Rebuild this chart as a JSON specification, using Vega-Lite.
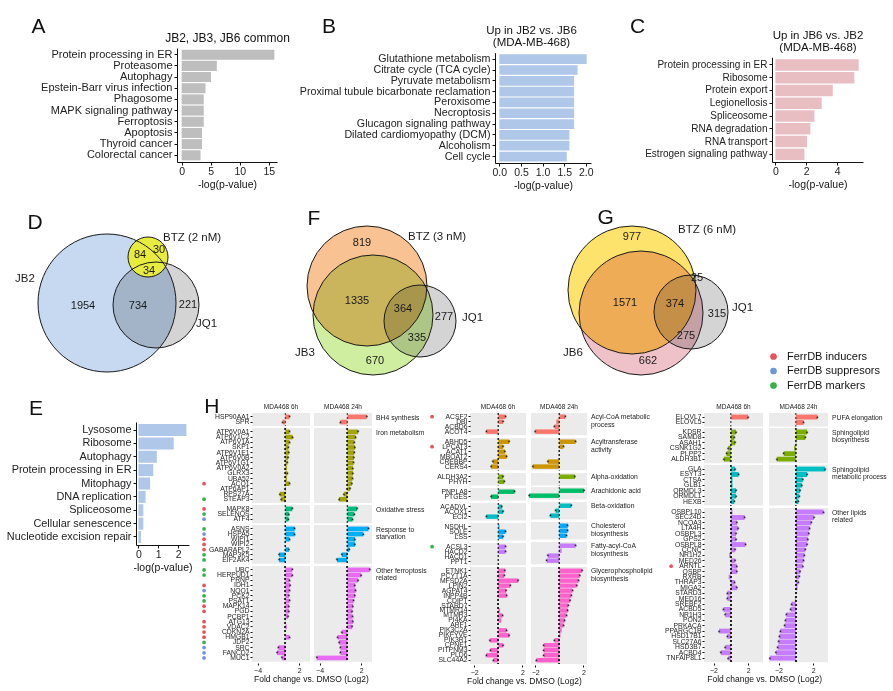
{
"$schema":"https://vega.github.io/schema/vega-lite/v6.json",
"background":"white",
"padding":{"left":5,"top":15,"right":3,"bottom":0},
"config":{
 "font":"Liberation Sans",
 "view":{"stroke":null},
 "axis":{"labelFont":"Liberation Sans","titleFont":"Liberation Sans","labelColor":"#222","titleColor":"#111","domainColor":"#111","tickColor":"#111","titleFontWeight":"normal","grid":false,"labelLimit":260},
 "header":{"labelFont":"Liberation Sans","titleFont":"Liberation Sans","labelColor":"#222"},
 "title":{"font":"Liberation Sans","fontWeight":"normal","color":"#111"},
 "legend":{"labelFont":"Liberation Sans"},
 "text":{"font":"Liberation Sans"}
},
"datasets":{
 "A":[{"t":"Protein processing in ER","v":15.95},{"t":"Proteasome","v":6.05},{"t":"Autophagy","v":5.05},{"t":"Epstein-Barr virus infection","v":4.1},{"t":"Phagosome","v":3.8},{"t":"MAPK signaling pathway","v":3.8},{"t":"Ferroptosis","v":3.8},{"t":"Apoptosis","v":3.5},{"t":"Thyroid cancer","v":3.5},{"t":"Colorectal cancer","v":3.25}],
 "B":[{"t":"Glutathione metabolism","v":2.02},{"t":"Citrate cycle (TCA cycle)","v":1.81},{"t":"Pyruvate metabolism","v":1.73},{"t":"Proximal tubule bicarbonate reclamation","v":1.73},{"t":"Peroxisome","v":1.73},{"t":"Necroptosis","v":1.73},{"t":"Glucagon signaling pathway","v":1.73},{"t":"Dilated cardiomyopathy (DCM)","v":1.62},{"t":"Alcoholism","v":1.62},{"t":"Cell cycle","v":1.56}],
 "C":[{"t":"Protein processing in ER","v":5.4},{"t":"Ribosome","v":5.12},{"t":"Protein export","v":3.72},{"t":"Legionellosis","v":3.0},{"t":"Spliceosome","v":2.53},{"t":"RNA degradation","v":2.27},{"t":"RNA transport","v":2.05},{"t":"Estrogen signaling pathway","v":1.88}],
 "E":[{"t":"Lysosome","v":2.42},{"t":"Ribosome","v":1.78},{"t":"Autophagy","v":0.93},{"t":"Protein processing in ER","v":0.75},{"t":"Mitophagy","v":0.59},{"t":"DNA replication","v":0.36},{"t":"Spliceosome","v":0.25},{"t":"Cellular senescence","v":0.25},{"t":"Nucleotide excision repair","v":0.13}],
 "vD":[{"k":"c","name":"JB2","x":107,"y":302,"r":69},{"k":"c","name":"JQ1","x":156,"y":304,"r":43},{"k":"c","name":"BTZ","x":148,"y":256,"r":20},
  {"k":"n","label":"84","x":140,"y":254},{"k":"n","label":"30","x":159,"y":249},{"k":"n","label":"34","x":149,"y":270},{"k":"n","label":"1954","x":83,"y":305},{"k":"n","label":"734","x":138,"y":305},{"k":"n","label":"221","x":188,"y":304},
  {"k":"s","label":"BTZ (2 nM)","x":163,"y":237},{"k":"s","label":"JB2","x":15,"y":278},{"k":"s","label":"JQ1","x":196,"y":323}],
 "vF":[{"k":"c","name":"BTZ","x":367,"y":285,"r":60},{"k":"c","name":"JB3","x":373,"y":314,"r":60},{"k":"c","name":"JQ1","x":420,"y":320,"r":36},
  {"k":"n","label":"819","x":362,"y":242},{"k":"n","label":"1335","x":357,"y":300},{"k":"n","label":"364","x":403,"y":308},{"k":"n","label":"277","x":444,"y":316},{"k":"n","label":"335","x":417,"y":337},{"k":"n","label":"670","x":375,"y":360},
  {"k":"s","label":"BTZ (3 nM)","x":408,"y":236},{"k":"s","label":"JQ1","x":462,"y":317},{"k":"s","label":"JB3","x":295,"y":352}],
 "vG":[{"k":"c","name":"BTZ","x":632,"y":289,"r":64},{"k":"c","name":"JB6","x":641,"y":312,"r":62},{"k":"c","name":"JQ1","x":691,"y":311,"r":37},
  {"k":"n","label":"977","x":632,"y":236},{"k":"n","label":"1571","x":625,"y":302},{"k":"n","label":"374","x":675,"y":303},{"k":"n","label":"25","x":697,"y":277},{"k":"n","label":"315","x":717,"y":313},{"k":"n","label":"275","x":686,"y":335},{"k":"n","label":"662","x":648,"y":360},
  {"k":"s","label":"BTZ (6 nM)","x":678,"y":229},{"k":"s","label":"JQ1","x":732,"y":307},{"k":"s","label":"JB6","x":563,"y":352}],
 "leg":[{"ferr":"FerrDB inducers"},{"ferr":"FerrDB suppresors"},{"ferr":"FerrDB markers"}],
 "h":[
  {"g":1,"c":"BH4 synthesis","n":"HSP90AA1","6h":0.6,"24h":2.8},
  {"g":1,"c":"BH4 synthesis","n":"SPR","6h":-0.4,"24h":-1.0},
  {"g":1,"c":"Iron metabolism","n":"ATP6V0A1","6h":0.6,"24h":1.55},
  {"g":1,"c":"Iron metabolism","n":"ATP6V1C2","6h":1.05,"24h":1.2},
  {"g":1,"c":"Iron metabolism","n":"ATP6V1A","6h":0.6,"24h":1.0},
  {"g":1,"c":"Iron metabolism","n":"SKP1","6h":0.45,"24h":1.1},
  {"g":1,"c":"Iron metabolism","n":"ATP6V1E1","6h":0.5,"24h":1.0},
  {"g":1,"c":"Iron metabolism","n":"ATP6V0B","6h":0.4,"24h":0.95},
  {"g":1,"c":"Iron metabolism","n":"ATP6V1G1","6h":0.3,"24h":0.9},
  {"g":1,"c":"Iron metabolism","n":"ATP6V0A2","6h":0.25,"24h":0.8},
  {"g":1,"c":"Iron metabolism","n":"GLRX3","6h":0.3,"24h":0.8},
  {"g":1,"c":"Iron metabolism","n":"UBA52","6h":0.25,"24h":0.75},
  {"g":1,"c":"Iron metabolism","n":"ACO1","f":"i","6h":0.6,"24h":0.65},
  {"g":1,"c":"Iron metabolism","n":"ATP6AP1","6h":0.1,"24h":0.4},
  {"g":1,"c":"Iron metabolism","n":"RPS27A","6h":-0.8,"24h":-0.5},
  {"g":1,"c":"Iron metabolism","n":"STEAP3","f":"m","6h":-0.6,"24h":-1.2},
  {"g":1,"c":"Oxidative stress","n":"MAPK8","f":"i","6h":1.0,"24h":1.4},
  {"g":1,"c":"Oxidative stress","n":"SELENOS","f":"m","6h":0.5,"24h":1.0},
  {"g":1,"c":"Oxidative stress","n":"ATF4","f":"s","6h":0.45,"24h":0.75},
  {"g":1,"c":"Response to|starvation","n":"ASNS","f":"m","6h":1.35,"24h":3.05},
  {"g":1,"c":"Response to|starvation","n":"HSPA5","f":"s","6h":1.35,"24h":2.3},
  {"g":1,"c":"Response to|starvation","n":"WIPI1","f":"i","6h":0.6,"24h":1.1},
  {"g":1,"c":"Response to|starvation","n":"WIPI2","f":"i","6h":0.0,"24h":1.1},
  {"g":1,"c":"Response to|starvation","n":"GABARAPL2","f":"i","6h":0.5,"24h":0.3},
  {"g":1,"c":"Response to|starvation","n":"MAP3K5","f":"m","6h":-0.9,"24h":-0.8},
  {"g":1,"c":"Response to|starvation","n":"EIF2AK4","f":"m","6h":-0.9,"24h":-1.5},
  {"g":1,"c":"Other ferroptosis|related","n":"UBC","f":"m","6h":1.0,"24h":3.25},
  {"g":1,"c":"Other ferroptosis|related","n":"HERPUD1","f":"m","6h":1.0,"24h":2.0},
  {"g":1,"c":"Other ferroptosis|related","n":"PRNP","6h":0.6,"24h":1.55},
  {"g":1,"c":"Other ferroptosis|related","n":"IDH1","f":"i","6h":0.7,"24h":1.1},
  {"g":1,"c":"Other ferroptosis|related","n":"NQO1","f":"s","6h":0.6,"24h":1.2},
  {"g":1,"c":"Other ferroptosis|related","n":"PCK2","f":"m","6h":0.5,"24h":1.1},
  {"g":1,"c":"Other ferroptosis|related","n":"PSAT1","f":"m","6h":0.6,"24h":0.9},
  {"g":1,"c":"Other ferroptosis|related","n":"MAPK14","f":"i","6h":0.5,"24h":0.8},
  {"g":1,"c":"Other ferroptosis|related","n":"PGD","f":"i","6h":0.5,"24h":0.7},
  {"g":1,"c":"Other ferroptosis|related","n":"PCBP1","6h":0.4,"24h":0.75},
  {"g":1,"c":"Other ferroptosis|related","n":"ATG13","f":"i","6h":0.05,"24h":0.8},
  {"g":1,"c":"Other ferroptosis|related","n":"VDAC2","f":"i","6h":0.2,"24h":0.7},
  {"g":1,"c":"Other ferroptosis|related","n":"CDKN2A","f":"i","6h":0.0,"24h":-0.8},
  {"g":1,"c":"Other ferroptosis|related","n":"HMGB1","f":"i","6h":0.6,"24h":-1.4},
  {"g":1,"c":"Other ferroptosis|related","n":"JDP2","f":"m","6h":0.0,"24h":-1.2},
  {"g":1,"c":"Other ferroptosis|related","n":"SRC","f":"s","6h":-1.0,"24h":-1.0},
  {"g":1,"c":"Other ferroptosis|related","n":"FANCD2","f":"s","6h":-1.2,"24h":-1.0},
  {"g":1,"c":"Other ferroptosis|related","n":"MUC1","f":"s","6h":-0.5,"24h":-4.4},
  {"g":2,"c":"Acyl-CoA metabolic|process","n":"ACSF2","f":"i","6h":0.6,"24h":0.5},
  {"g":2,"c":"Acyl-CoA metabolic|process","n":"DBI","6h":0.4,"24h":-0.25},
  {"g":2,"c":"Acyl-CoA metabolic|process","n":"ACBD6","6h":0.0,"24h":-0.4},
  {"g":2,"c":"Acyl-CoA metabolic|process","n":"ACOT4","6h":-1.0,"24h":-2.0},
  {"g":2,"c":"Acyltransferase|activity","n":"ABHD5","6h":0.9,"24h":1.35},
  {"g":2,"c":"Acyltransferase|activity","n":"LPCAT3","f":"i","6h":0.4,"24h":0.35},
  {"g":2,"c":"Acyltransferase|activity","n":"ACAT1","6h":0.55,"24h":0.0},
  {"g":2,"c":"Acyltransferase|activity","n":"MBOAT2","6h":0.7,"24h":0.0},
  {"g":2,"c":"Acyltransferase|activity","n":"CREBBP","6h":-0.45,"24h":-0.95},
  {"g":2,"c":"Acyltransferase|activity","n":"CERS4","6h":-0.6,"24h":-2.2},
  {"g":2,"c":"Alpha-oxidation","n":"ALDH3A2","6h":0.4,"24h":1.3},
  {"g":2,"c":"Alpha-oxidation","n":"PHYH","6h":0.5,"24h":0.0},
  {"g":2,"c":"Arachidonic acid","n":"PNPLA8","6h":1.35,"24h":2.05},
  {"g":2,"c":"Arachidonic acid","n":"PTGES","6h":-0.6,"24h":-2.5},
  {"g":2,"c":"Beta-oxidation","n":"ACADVL","6h":0.3,"24h":1.0},
  {"g":2,"c":"Beta-oxidation","n":"ACOX1","6h":0.4,"24h":-0.3},
  {"g":2,"c":"Beta-oxidation","n":"ECI2","6h":-1.0,"24h":-0.75},
  {"g":2,"c":"Cholesterol|biosynthesis","n":"NSDHL","6h":0.1,"24h":0.7},
  {"g":2,"c":"Cholesterol|biosynthesis","n":"SQLE","6h":0.6,"24h":0.7},
  {"g":2,"c":"Cholesterol|biosynthesis","n":"LSS","6h":0.4,"24h":0.6},
  {"g":2,"c":"Fatty-acyl-CoA|biosynthesis","n":"ACSL3","f":"m","6h":0.6,"24h":1.35},
  {"g":2,"c":"Fatty-acyl-CoA|biosynthesis","n":"HACD2","6h":0.6,"24h":0.2},
  {"g":2,"c":"Fatty-acyl-CoA|biosynthesis","n":"HACD1","6h":0.0,"24h":-0.95},
  {"g":2,"c":"Fatty-acyl-CoA|biosynthesis","n":"PPT1","6h":0.0,"24h":-1.05},
  {"g":2,"c":"Glycerophospholipid|biosynthesis","n":"ETNK1","6h":0.55,"24h":1.9},
  {"g":2,"c":"Glycerophospholipid|biosynthesis","n":"PCYT1A","6h":0.5,"24h":1.7},
  {"g":2,"c":"Glycerophospholipid|biosynthesis","n":"MFSD2A","6h":1.65,"24h":1.6},
  {"g":2,"c":"Glycerophospholipid|biosynthesis","n":"LPIN2","6h":1.0,"24h":1.45},
  {"g":2,"c":"Glycerophospholipid|biosynthesis","n":"AGPAT4","6h":0.65,"24h":1.1},
  {"g":2,"c":"Glycerophospholipid|biosynthesis","n":"INPP4B","6h":0.7,"24h":1.0},
  {"g":2,"c":"Glycerophospholipid|biosynthesis","n":"CDIPT","6h":0.0,"24h":0.9},
  {"g":2,"c":"Glycerophospholipid|biosynthesis","n":"STARD7","6h":0.0,"24h":0.75},
  {"g":2,"c":"Glycerophospholipid|biosynthesis","n":"MTMR14","6h":0.15,"24h":0.7},
  {"g":2,"c":"Glycerophospholipid|biosynthesis","n":"MTMR3","6h":0.35,"24h":0.6},
  {"g":2,"c":"Glycerophospholipid|biosynthesis","n":"PI4KA","6h":0.25,"24h":0.45},
  {"g":2,"c":"Glycerophospholipid|biosynthesis","n":"ARF1","6h":0.0,"24h":0.35},
  {"g":2,"c":"Glycerophospholipid|biosynthesis","n":"PIK3C2A","6h":0.7,"24h":0.2},
  {"g":2,"c":"Glycerophospholipid|biosynthesis","n":"PIKFYVE","6h":0.9,"24h":0.1},
  {"g":2,"c":"Glycerophospholipid|biosynthesis","n":"PIK3R1","6h":-0.7,"24h":-0.4},
  {"g":2,"c":"Glycerophospholipid|biosynthesis","n":"CPNE1","6h":0.4,"24h":-1.3},
  {"g":2,"c":"Glycerophospholipid|biosynthesis","n":"PITPNM3","6h":-0.65,"24h":-1.3},
  {"g":2,"c":"Glycerophospholipid|biosynthesis","n":"PLD6","6h":-1.0,"24h":-1.3},
  {"g":2,"c":"Glycerophospholipid|biosynthesis","n":"SLC44A2","6h":-0.4,"24h":-1.9},
  {"g":3,"c":"PUFA elongation","n":"ELOVL7","6h":2.0,"24h":2.5},
  {"g":3,"c":"PUFA elongation","n":"ELOVL5","6h":0.0,"24h":0.9},
  {"g":3,"c":"Sphingolipid|biosynthesis","n":"KDSR","6h":0.6,"24h":1.3},
  {"g":3,"c":"Sphingolipid|biosynthesis","n":"SAMD8","6h":0.4,"24h":1.1},
  {"g":3,"c":"Sphingolipid|biosynthesis","n":"ASAH1","6h":0.5,"24h":0.05},
  {"g":3,"c":"Sphingolipid|biosynthesis","n":"CSNK1G2","6h":-0.3,"24h":-0.2},
  {"g":3,"c":"Sphingolipid|biosynthesis","n":"PLPP2","6h":-0.5,"24h":-1.4},
  {"g":3,"c":"Sphingolipid|biosynthesis","n":"ALDH3B1","6h":-0.8,"24h":-2.2},
  {"g":3,"c":"Sphingolipid|metabolic process","n":"GLA","6h":0.5,"24h":3.4},
  {"g":3,"c":"Sphingolipid|metabolic process","n":"ESYT3","6h":0.9,"24h":1.3},
  {"g":3,"c":"Sphingolipid|metabolic process","n":"CTSA","6h":0.2,"24h":0.8},
  {"g":3,"c":"Sphingolipid|metabolic process","n":"GLB1","6h":0.2,"24h":0.7},
  {"g":3,"c":"Sphingolipid|metabolic process","n":"ORMDL3","6h":0.6,"24h":0.5},
  {"g":3,"c":"Sphingolipid|metabolic process","n":"ORMDL1","6h":0.6,"24h":0.4},
  {"g":3,"c":"Sphingolipid|metabolic process","n":"HEXB","6h":0.4,"24h":0.3},
  {"g":3,"c":"Other lipids|related","n":"OSBPL10","6h":0.2,"24h":3.2},
  {"g":3,"c":"Other lipids|related","n":"SEC24D","6h":1.6,"24h":2.1},
  {"g":3,"c":"Other lipids|related","n":"NCOA3","6h":0.7,"24h":1.8},
  {"g":3,"c":"Other lipids|related","n":"LTA4H","6h":0.85,"24h":1.6},
  {"g":3,"c":"Other lipids|related","n":"OSBPL3","6h":0.6,"24h":1.5},
  {"g":3,"c":"Other lipids|related","n":"GPS2","6h":0.6,"24h":1.4},
  {"g":3,"c":"Other lipids|related","n":"OSBPL8","6h":1.7,"24h":1.3},
  {"g":3,"c":"Other lipids|related","n":"CCNC","6h":0.5,"24h":1.1},
  {"g":3,"c":"Other lipids|related","n":"NR1H2","6h":-0.2,"24h":1.0},
  {"g":3,"c":"Other lipids|related","n":"MED26","6h":0.5,"24h":0.9},
  {"g":3,"c":"Other lipids|related","n":"ARNTL","f":"i","6h":0.7,"24h":0.8},
  {"g":3,"c":"Other lipids|related","n":"OSBP","6h":0.7,"24h":0.5},
  {"g":3,"c":"Other lipids|related","n":"RXRB","6h":-0.25,"24h":0.4},
  {"g":3,"c":"Other lipids|related","n":"THRAP3","6h":0.45,"24h":0.3},
  {"g":3,"c":"Other lipids|related","n":"MIGA2","6h":0.7,"24h":0.2},
  {"g":3,"c":"Other lipids|related","n":"STARD3","6h":-0.4,"24h":0.0},
  {"g":3,"c":"Other lipids|related","n":"MED16","6h":-0.4,"24h":-0.1},
  {"g":3,"c":"Other lipids|related","n":"SREBF2","6h":0.0,"24h":-0.5},
  {"g":3,"c":"Other lipids|related","n":"ACBD5","6h":-0.85,"24h":-0.6},
  {"g":3,"c":"Other lipids|related","n":"NR1H3","6h":-0.65,"24h":-1.1},
  {"g":3,"c":"Other lipids|related","n":"PON2","6h":0.0,"24h":-1.2},
  {"g":3,"c":"Other lipids|related","n":"PRKACA","6h":0.0,"24h":-1.3},
  {"g":3,"c":"Other lipids|related","n":"PPARGC1B","6h":-1.35,"24h":-1.8},
  {"g":3,"c":"Other lipids|related","n":"HSD17B1","6h":-0.4,"24h":-1.9},
  {"g":3,"c":"Other lipids|related","n":"SLC27A6","6h":0.0,"24h":-2.0},
  {"g":3,"c":"Other lipids|related","n":"HSD3B7","6h":-0.65,"24h":-2.1},
  {"g":3,"c":"Other lipids|related","n":"ACBD4","6h":-1.15,"24h":-2.3},
  {"g":3,"c":"Other lipids|related","n":"TNFAIP8L1","6h":-0.3,"24h":-3.0}
 ]
},
"resolve":{"scale":{"color":"independent","fill":"independent","size":"independent"},"legend":{"color":"independent","fill":"independent","size":"independent"}},
"spacing":15,
"vconcat":[
 {"hconcat":[
  {"width":1,"height":1,"data":{"values":[{}]},"mark":{"type":"point","opacity":0,"size":0}},
  {"data":{"name":"A"},"width":100,"height":114,"resolve":{"axis":{"x":"independent"}},
   "layer":[
    {"mark":{"type":"bar","color":"#bebebe"},
     "encoding":{
      "y":{"field":"t","type":"nominal","sort":null,"scale":{"paddingInner":0.1,"paddingOuter":0.15},"axis":{"title":"A","titleAngle":0,"titleX":-146,"titleY":-32.5,"titleAlign":"left","titleBaseline":"top","titleFontSize":21,"labelFontSize":11,"labelPadding":2,"tickSize":3,"minExtent":164}},
      "x":{"field":"v","type":"quantitative","scale":{"domain":[-0.8,16.4],"nice":false,"zero":false},"axis":{"values":[0,5,10,15],"title":"-log(p-value)","labelFontSize":10.5,"titleFontSize":10.5,"tickSize":3,"labelPadding":1.5,"titlePadding":2}},
      "x2":{"datum":0}}},
    {"mark":{"type":"point","opacity":0},
     "encoding":{"y":{"field":"t","type":"nominal","sort":null},
      "x":{"field":"v","type":"quantitative","axis":{"orient":"top","title":"JB2, JB3, JB6 common","titleY":-16,"titleBaseline":"top","labels":false,"ticks":false,"domain":false,"titleFontSize":12}}}}
   ]},
  {"data":{"name":"B"},"width":96,"height":115,"resolve":{"axis":{"x":"independent"}},
   "layer":[
    {"mark":{"type":"bar","color":"#afc7e8"},
     "encoding":{
      "y":{"field":"t","type":"nominal","sort":null,"scale":{"paddingInner":0.1,"paddingOuter":0.15,"range":[4.7,115]},"axis":{"title":"B","titleAngle":0,"titleX":-173.5,"titleY":-32.5,"titleAlign":"left","titleBaseline":"top","titleFontSize":21,"labelFontSize":10.7,"labelPadding":2,"tickSize":3,"minExtent":198}},
      "x":{"field":"v","type":"quantitative","scale":{"domain":[-0.1,2.12],"nice":false,"zero":false},"axis":{"values":[0,0.5,1,1.5,2],"format":".1f","title":"-log(p-value)","labelFontSize":10.5,"titleFontSize":10.5,"tickSize":3,"labelPadding":1.5,"titlePadding":2}},
      "x2":{"datum":0}}},
    {"mark":{"type":"point","opacity":0},
     "encoding":{"y":{"field":"t","type":"nominal","sort":null},
      "x":{"field":"v","type":"quantitative","axis":{"orient":"top","title":["Up in JB2 vs. JB6","(MDA-MB-468)"],"titleX":36,"titleY":-24,"titleBaseline":"top","titleAlign":"center","labels":false,"ticks":false,"domain":false,"titleFontSize":11.5,"titleLineHeight":12}}}}
   ]},
  {"data":{"name":"C"},"width":91,"height":114,"resolve":{"axis":{"x":"independent"}},
   "layer":[
    {"mark":{"type":"bar","color":"#e9bec3"},
     "encoding":{
      "y":{"field":"t","type":"nominal","sort":null,"scale":{"paddingInner":0.1,"paddingOuter":0.15,"range":[9.3,114]},"axis":{"title":"C","titleAngle":0,"titleX":-142.5,"titleY":-32.5,"titleAlign":"left","titleBaseline":"top","titleFontSize":21,"labelFontSize":10,"labelPadding":2,"tickSize":3,"minExtent":171}},
      "x":{"field":"v","type":"quantitative","scale":{"domain":[-0.22,5.68],"nice":false,"zero":false},"axis":{"values":[0,2,4],"title":"-log(p-value)","labelFontSize":10.5,"titleFontSize":10.5,"tickSize":3,"labelPadding":1.5,"titlePadding":2}},
      "x2":{"datum":0}}},
    {"mark":{"type":"point","opacity":0},
     "encoding":{"y":{"field":"t","type":"nominal","sort":null},
      "x":{"field":"v","type":"quantitative","axis":{"orient":"top","title":["Up in JB6 vs. JB2","(MDA-MB-468)"],"titleY":-19,"titleBaseline":"top","titleAlign":"center","labels":false,"ticks":false,"domain":false,"titleFontSize":11.5,"titleLineHeight":12}}}}
   ]}
 ],"spacing":7,"resolve":{"scale":{"color":"independent","fill":"independent","size":"independent"}}},
 {"vconcat":[
  {"hconcat":[
   {"data":{"name":"vD"},"width":240,"height":185,
    "layer":[
     {"transform":[{"filter":"datum.k == 'c' && datum.name != 'BTZ'"}],
      "mark":{"type":"point","shape":"circle","filled":true,"opacity":1,"strokeWidth":0,"blend":"multiply"},
      "encoding":{
       "x":{"field":"x","type":"quantitative","scale":{"domain":[5,245],"nice":false,"zero":false},"axis":null},
       "y":{"field":"y","type":"quantitative","scale":{"domain":[205,390],"nice":false,"zero":false,"reverse":true},"axis":{"title":"D","labels":false,"ticks":false,"domain":false,"minExtent":0,"titleAngle":0,"titleX":22,"titleY":5.5,"titleAlign":"left","titleBaseline":"top","titleFontSize":21}},
       "size":{"field":"r","type":"quantitative","scale":{"type":"pow","exponent":2,"domain":[0,100],"range":[0,40000]},"legend":null},
       "fill":{"field":"name","type":"nominal","scale":{"domain":["JB2","JQ1","BTZ"],"range":["#c6d9f1","#d4d4d4","#e7ec3e"]},"legend":null}}},
     {"transform":[{"filter":"datum.k == 'c' && datum.name == 'BTZ'"}],
      "mark":{"type":"point","shape":"circle","filled":true,"opacity":1,"strokeWidth":0},
      "encoding":{"x":{"field":"x","type":"quantitative"},"y":{"field":"y","type":"quantitative"},"size":{"field":"r","type":"quantitative"},"fill":{"field":"name","type":"nominal"}}},
     {"transform":[{"filter":"datum.k == 'c'"}],
      "mark":{"type":"point","shape":"circle","filled":false,"opacity":1,"color":"#1a1a1a","strokeWidth":1},
      "encoding":{"x":{"field":"x","type":"quantitative"},"y":{"field":"y","type":"quantitative"},"size":{"field":"r","type":"quantitative"}}},
     {"transform":[{"filter":"datum.k == 'n'"}],
      "mark":{"type":"text","fontSize":11,"color":"#1a1a1a","align":"center","baseline":"middle"},
      "encoding":{"x":{"field":"x","type":"quantitative"},"y":{"field":"y","type":"quantitative"},"text":{"field":"label"}}},
     {"transform":[{"filter":"datum.k == 's'"}],
      "mark":{"type":"text","fontSize":11.5,"color":"#1a1a1a","align":"left","baseline":"middle"},
      "encoding":{"x":{"field":"x","type":"quantitative"},"y":{"field":"y","type":"quantitative"},"text":{"field":"label"}}}
    ]},
   {"data":{"name":"vF"},"width":220,"height":185,
    "layer":[
     {"transform":[{"filter":"datum.k == 'c'"}],
      "mark":{"type":"point","shape":"circle","filled":true,"opacity":1,"strokeWidth":0,"blend":"multiply"},
      "encoding":{
       "x":{"field":"x","type":"quantitative","scale":{"domain":[290,510],"nice":false,"zero":false},"axis":null},
       "y":{"field":"y","type":"quantitative","scale":{"domain":[205,390],"nice":false,"zero":false,"reverse":true},"axis":{"title":"F","labels":false,"ticks":false,"domain":false,"minExtent":0,"titleAngle":0,"titleX":17,"titleY":1.5,"titleAlign":"left","titleBaseline":"top","titleFontSize":21}},
       "size":{"field":"r","type":"quantitative","scale":{"type":"pow","exponent":2,"domain":[0,100],"range":[0,40000]},"legend":null},
       "fill":{"field":"name","type":"nominal","scale":{"domain":["BTZ","JB3","JQ1"],"range":["#f8c292","#d0eea0","#d4d4d4"]},"legend":null}}},
     {"transform":[{"filter":"datum.k == 'c'"}],
      "mark":{"type":"point","shape":"circle","filled":false,"opacity":1,"color":"#1a1a1a","strokeWidth":1},
      "encoding":{"x":{"field":"x","type":"quantitative"},"y":{"field":"y","type":"quantitative"},"size":{"field":"r","type":"quantitative"}}},
     {"transform":[{"filter":"datum.k == 'n'"}],
      "mark":{"type":"text","fontSize":11,"color":"#1a1a1a","align":"center","baseline":"middle"},
      "encoding":{"x":{"field":"x","type":"quantitative"},"y":{"field":"y","type":"quantitative"},"text":{"field":"label"}}},
     {"transform":[{"filter":"datum.k == 's'"}],
      "mark":{"type":"text","fontSize":11.5,"color":"#1a1a1a","align":"left","baseline":"middle"},
      "encoding":{"x":{"field":"x","type":"quantitative"},"y":{"field":"y","type":"quantitative"},"text":{"field":"label"}}}
    ]},
   {"data":{"name":"vG"},"width":330,"height":185,
    "layer":[
     {"transform":[{"filter":"datum.k == 'c'"}],
      "mark":{"type":"point","shape":"circle","filled":true,"opacity":1,"strokeWidth":0,"blend":"multiply"},
      "encoding":{
       "x":{"field":"x","type":"quantitative","scale":{"domain":[555,885],"nice":false,"zero":false},"axis":null},
       "y":{"field":"y","type":"quantitative","scale":{"domain":[205,390],"nice":false,"zero":false,"reverse":true},"axis":{"title":"G","labels":false,"ticks":false,"domain":false,"minExtent":0,"titleAngle":0,"titleX":42,"titleY":0.5,"titleAlign":"left","titleBaseline":"top","titleFontSize":21}},
       "size":{"field":"r","type":"quantitative","scale":{"type":"pow","exponent":2,"domain":[0,100],"range":[0,40000]},"legend":null},
       "fill":{"field":"name","type":"nominal","scale":{"domain":["BTZ","JB6","JQ1"],"range":["#fde36c","#efc1c9","#d4d4d4"]},"legend":null}}},
     {"transform":[{"filter":"datum.k == 'c'"}],
      "mark":{"type":"point","shape":"circle","filled":false,"opacity":1,"color":"#1a1a1a","strokeWidth":1},
      "encoding":{"x":{"field":"x","type":"quantitative"},"y":{"field":"y","type":"quantitative"},"size":{"field":"r","type":"quantitative"}}},
     {"transform":[{"filter":"datum.k == 'n'"}],
      "mark":{"type":"text","fontSize":11,"color":"#1a1a1a","align":"center","baseline":"middle"},
      "encoding":{"x":{"field":"x","type":"quantitative"},"y":{"field":"y","type":"quantitative"},"text":{"field":"label"}}},
     {"transform":[{"filter":"datum.k == 's'"}],
      "mark":{"type":"text","fontSize":11.5,"color":"#1a1a1a","align":"left","baseline":"middle"},
      "encoding":{"x":{"field":"x","type":"quantitative"},"y":{"field":"y","type":"quantitative"},"text":{"field":"label"}}},
     {"data":{"name":"leg"},"mark":{"type":"point","filled":true,"opacity":0},
      "encoding":{"color":{"field":"ferr","type":"nominal","scale":{"domain":["FerrDB inducers","FerrDB suppresors","FerrDB markers"],"range":["#e8525b","#7096d8","#33b34a"]},
        "legend":{"orient":"none","legendX":213,"legendY":145,"title":null,"symbolType":"circle","symbolSize":45,"symbolOpacity":1,"symbolStrokeWidth":0,"labelFontSize":11,"labelOffset":8,"rowPadding":2.5,"labelColor":"#111"}}}}
    ]}
  ],"spacing":45,"resolve":{"scale":{"color":"independent","fill":"independent","size":"independent"},"legend":{"color":"independent","fill":"independent","size":"independent"}}},
  {"hconcat":[
   {"width":1,"height":1,"data":{"values":[{}]},"mark":{"type":"point","opacity":0,"size":0}},
   {"hconcat":[
   {"data":{"name":"E"},"width":53,"height":132,
    "mark":{"type":"bar","color":"#afc7e8"},
    "encoding":{
     "y":{"field":"t","type":"nominal","sort":null,"scale":{"paddingInner":0.1,"paddingOuter":0.15,"range":[9,132]},"axis":{"title":"E","titleAngle":0,"titleX":-107.5,"titleY":-15.5,"titleAlign":"left","titleBaseline":"top","titleFontSize":21,"labelFontSize":10.9,"labelPadding":2,"tickSize":3,"minExtent":130}},
     "x":{"field":"v","type":"quantitative","scale":{"domain":[-0.12,2.55],"nice":false,"zero":false},"axis":{"values":[0,1,2],"title":"-log(p-value)","labelFontSize":10.5,"titleFontSize":10.5,"tickSize":3,"labelPadding":1.5,"titlePadding":2}},
     "x2":{"datum":0}}},
   {"title":{"text":"H","anchor":"start","fontSize":21,"offset":-13,"dx":2,"color":"#111"},
    "spacing":3,
    "resolve":{"scale":{"color":"independent","fill":"independent","size":"independent"},"legend":{"color":"independent","fill":"independent"}},
    "hconcat":[
     {"title":{"text":"Fold change vs. DMSO (Log2)","orient":"bottom","anchor":"middle","fontSize":8.5,"offset":2,"dx":-3},
      "spacing":4,
      "resolve":{"scale":{"color":"independent","fill":"independent"},"legend":{"color":"independent","fill":"independent"}},
      "hconcat":[
       {"data":{"name":"h"},"transform":[{"filter":"datum.g == 1"},{"fold":["6h"],"as":["time","fc"]}],
        "facet":{"row":{"field":"c","type":"nominal","sort":["BH4 synthesis","Iron metabolism","Oxidative stress","Response to|starvation","Other ferroptosis|related"],"header":{"labels":false,"title":null}},
                 "column":{"field":"time","type":"nominal","header":{"title":null,"labelExpr":"'MDA468 ' + datum.value","labelFontSize":6.5,"labelPadding":2}}},
        "spacing":{"row":0},"align":"none",
        "resolve":{"scale":{"y":"independent"}},
        "spec":{"width":58,"height":{"step":5.18},"view":{"fill":"#ebebeb","stroke":null},
         "layer":[
          {"mark":{"type":"bar"},"encoding":{
            "y":{"field":"n","type":"nominal","sort":null,"scale":{"paddingInner":0.1,"paddingOuter":0.3},"axis":{"title":null,"labelFontSize":6.8,"tickSize":2,"domain":false,"labelPadding":1,"minExtent":0}},
            "x":{"field":"fc","type":"quantitative","scale":{"domain":[-4.8,3.55],"nice":false,"zero":false},"axis":{"title":null,"values":[-4,-2,0,2],"domain":false,"tickSize":2,"labelFontSize":7,"labelPadding":1}},
            "x2":{"datum":0},
            "color":{"field":"c","type":"nominal","scale":{"domain":["BH4 synthesis","Iron metabolism","Oxidative stress","Response to|starvation","Other ferroptosis|related"],"range":["#F8766D","#A3A500","#00BF7D","#00B0F6","#E76BF3"]},"legend":null}}},
          {"mark":{"type":"rule","color":"#222","strokeDash":[2,2],"strokeWidth":0.6},"encoding":{"x":{"datum":0}}},
          {"transform":[{"filter":"abs(datum.fc) >= 0.3"}],"mark":{"type":"text","text":"*","fontSize":7,"color":"#111","baseline":"middle","dy":1.5},"encoding":{"x":{"field":"fc","type":"quantitative"},"y":{"field":"n","type":"nominal","sort":null}}},
          {"transform":[{"filter":"datum.f != null"}],"mark":{"type":"circle","size":14,"opacity":1},"encoding":{"x":{"datum":-11.7},"y":{"field":"n","type":"nominal","sort":null},"fill":{"field":"f","type":"nominal","scale":{"domain":["i","s","m"],"range":["#e8525b","#7096d8","#33b34a"]},"legend":null}}}
         ]}},
       {"data":{"name":"h"},"transform":[{"filter":"datum.g == 1"},{"fold":["24h"],"as":["time","fc"]}],
        "facet":{"row":{"field":"c","type":"nominal","sort":["BH4 synthesis","Iron metabolism","Oxidative stress","Response to|starvation","Other ferroptosis|related"],"header":{"labels":false,"title":null}},
                 "column":{"field":"time","type":"nominal","header":{"title":null,"labelExpr":"'MDA468 ' + datum.value","labelFontSize":6.5,"labelPadding":2}}},
        "spacing":{"row":0},"align":"none",
        "resolve":{"scale":{"y":"independent"}},
        "spec":{"width":58,"height":{"step":5.18},"view":{"fill":"#ebebeb","stroke":null},
         "layer":[
          {"mark":{"type":"bar"},"encoding":{
            "y":{"field":"n","type":"nominal","sort":null,"scale":{"paddingInner":0.1,"paddingOuter":0.3},"axis":null},
            "x":{"field":"fc","type":"quantitative","scale":{"domain":[-4.8,3.55],"nice":false,"zero":false},"axis":{"title":null,"values":[-4,-2,0,2],"domain":false,"tickSize":2,"labelFontSize":7,"labelPadding":1}},
            "x2":{"datum":0},
            "color":{"field":"c","type":"nominal","scale":{"domain":["BH4 synthesis","Iron metabolism","Oxidative stress","Response to|starvation","Other ferroptosis|related"],"range":["#F8766D","#A3A500","#00BF7D","#00B0F6","#E76BF3"]},"legend":null}}},
          {"mark":{"type":"rule","color":"#222","strokeDash":[2,2],"strokeWidth":0.6},"encoding":{"x":{"datum":0}}},
          {"transform":[{"filter":"abs(datum.fc) >= 0.3"}],"mark":{"type":"text","text":"*","fontSize":7,"color":"#111","baseline":"middle","dy":1.5},"encoding":{"x":{"field":"fc","type":"quantitative"},"y":{"field":"n","type":"nominal","sort":null}}},
          {"transform":[{"window":[{"op":"row_number","as":"rn"}],"groupby":["c"]},{"filter":"datum.rn == 1"}],"mark":{"type":"text","align":"left","baseline":"top","fontSize":6.8,"lineBreak":"|","lineHeight":7.5,"color":"#222"},"encoding":{"x":{"datum":4.13},"y":{"field":"n","type":"nominal","sort":null,"bandPosition":0},"text":{"field":"c"}}}
         ]}}
      ]},
     {"spacing":11,
      "resolve":{"scale":{"color":"independent","fill":"independent","size":"independent"},"legend":{"color":"independent","fill":"independent"}},
      "hconcat":[
     {"title":{"text":"Fold change vs. DMSO (Log2)","orient":"bottom","anchor":"middle","fontSize":8.5,"offset":2,"dx":-17},
      "spacing":1,
      "resolve":{"scale":{"color":"independent","fill":"independent"},"legend":{"color":"independent","fill":"independent"}},
      "hconcat":[
       {"data":{"name":"h"},"transform":[{"filter":"datum.g == 2"},{"fold":["6h"],"as":["time","fc"]}],
        "facet":{"row":{"field":"c","type":"nominal","sort":["Acyl-CoA metabolic|process","Acyltransferase|activity","Alpha-oxidation","Arachidonic acid","Beta-oxidation","Cholesterol|biosynthesis","Fatty-acyl-CoA|biosynthesis","Glycerophospholipid|biosynthesis"],"header":{"labels":false,"title":null}},
                 "column":{"field":"time","type":"nominal","header":{"title":null,"labelExpr":"'MDA468 ' + datum.value","labelFontSize":6.5,"labelPadding":2}}},
        "spacing":{"row":0},"align":"none",
        "resolve":{"scale":{"y":"independent"}},
        "spec":{"width":56,"height":{"step":4.97},"view":{"fill":"#ebebeb","stroke":null},
         "layer":[
          {"mark":{"type":"bar"},"encoding":{
            "y":{"field":"n","type":"nominal","sort":null,"scale":{"paddingInner":0.1,"paddingOuter":0.3},"axis":{"title":null,"labelFontSize":6.8,"tickSize":2,"domain":false,"labelPadding":1,"minExtent":0}},
            "x":{"field":"fc","type":"quantitative","scale":{"domain":[-2.35,2.3],"nice":false,"zero":false},"axis":{"title":null,"values":[-2,-1,0,1,2],"domain":false,"tickSize":2,"labelFontSize":7,"labelPadding":1}},
            "x2":{"datum":0},
            "color":{"field":"c","type":"nominal","scale":{"domain":["Acyl-CoA metabolic|process","Acyltransferase|activity","Alpha-oxidation","Arachidonic acid","Beta-oxidation","Cholesterol|biosynthesis","Fatty-acyl-CoA|biosynthesis","Glycerophospholipid|biosynthesis"],"range":["#F8766D","#CD9600","#7CAE00","#00BE67","#00BFC4","#00A9FF","#C77CFF","#FF61CC"]},"legend":null}}},
          {"mark":{"type":"rule","color":"#222","strokeDash":[2,2],"strokeWidth":0.6},"encoding":{"x":{"datum":0}}},
          {"transform":[{"filter":"abs(datum.fc) >= 0.3"}],"mark":{"type":"text","text":"*","fontSize":7,"color":"#111","baseline":"middle","dy":1.5},"encoding":{"x":{"field":"fc","type":"quantitative"},"y":{"field":"n","type":"nominal","sort":null}}},
          {"transform":[{"filter":"datum.f != null"}],"mark":{"type":"circle","size":14,"opacity":1},"encoding":{"x":{"datum":-5.5},"y":{"field":"n","type":"nominal","sort":null},"fill":{"field":"f","type":"nominal","scale":{"domain":["i","s","m"],"range":["#e8525b","#7096d8","#33b34a"]},"legend":null}}}
         ]}},
       {"data":{"name":"h"},"transform":[{"filter":"datum.g == 2"},{"fold":["24h"],"as":["time","fc"]}],
        "facet":{"row":{"field":"c","type":"nominal","sort":["Acyl-CoA metabolic|process","Acyltransferase|activity","Alpha-oxidation","Arachidonic acid","Beta-oxidation","Cholesterol|biosynthesis","Fatty-acyl-CoA|biosynthesis","Glycerophospholipid|biosynthesis"],"header":{"labels":false,"title":null}},
                 "column":{"field":"time","type":"nominal","header":{"title":null,"labelExpr":"'MDA468 ' + datum.value","labelFontSize":6.5,"labelPadding":2}}},
        "spacing":{"row":0},"align":"none",
        "resolve":{"scale":{"y":"independent"}},
        "spec":{"width":56,"height":{"step":4.97},"view":{"fill":"#ebebeb","stroke":null},
         "layer":[
          {"mark":{"type":"bar"},"encoding":{
            "y":{"field":"n","type":"nominal","sort":null,"scale":{"paddingInner":0.1,"paddingOuter":0.3},"axis":null},
            "x":{"field":"fc","type":"quantitative","scale":{"domain":[-2.35,2.3],"nice":false,"zero":false},"axis":{"title":null,"values":[-2,-1,0,1,2],"domain":false,"tickSize":2,"labelFontSize":7,"labelPadding":1}},
            "x2":{"datum":0},
            "color":{"field":"c","type":"nominal","scale":{"domain":["Acyl-CoA metabolic|process","Acyltransferase|activity","Alpha-oxidation","Arachidonic acid","Beta-oxidation","Cholesterol|biosynthesis","Fatty-acyl-CoA|biosynthesis","Glycerophospholipid|biosynthesis"],"range":["#F8766D","#CD9600","#7CAE00","#00BE67","#00BFC4","#00A9FF","#C77CFF","#FF61CC"]},"legend":null}}},
          {"mark":{"type":"rule","color":"#222","strokeDash":[2,2],"strokeWidth":0.6},"encoding":{"x":{"datum":0}}},
          {"transform":[{"filter":"abs(datum.fc) >= 0.3"}],"mark":{"type":"text","text":"*","fontSize":7,"color":"#111","baseline":"middle","dy":1.5},"encoding":{"x":{"field":"fc","type":"quantitative"},"y":{"field":"n","type":"nominal","sort":null}}},
          {"transform":[{"window":[{"op":"row_number","as":"rn"}],"groupby":["c"]},{"filter":"datum.rn == 1"}],"mark":{"type":"text","align":"left","baseline":"top","fontSize":6.8,"lineBreak":"|","lineHeight":7.5,"color":"#222"},"encoding":{"x":{"datum":2.63},"y":{"field":"n","type":"nominal","sort":null,"bandPosition":0},"text":{"field":"c"}}}
         ]}}
      ]},
     {"title":{"text":"Fold change vs. DMSO (Log2)","orient":"bottom","anchor":"middle","fontSize":8.5,"offset":2,"dx":-11},
      "spacing":5,
      "resolve":{"scale":{"color":"independent","fill":"independent"},"legend":{"color":"independent","fill":"independent"}},
      "hconcat":[
       {"data":{"name":"h"},"transform":[{"filter":"datum.g == 3"},{"fold":["6h"],"as":["time","fc"]}],
        "facet":{"row":{"field":"c","type":"nominal","sort":["PUFA elongation","Sphingolipid|biosynthesis","Sphingolipid|metabolic process","Other lipids|related"],"header":{"labels":false,"title":null}},
                 "column":{"field":"time","type":"nominal","header":{"title":null,"labelExpr":"'MDA468 ' + datum.value","labelFontSize":6.5,"labelPadding":2}}},
        "spacing":{"row":0},"align":"none",
        "resolve":{"scale":{"y":"independent"}},
        "spec":{"width":59,"height":{"step":5.41},"view":{"fill":"#ebebeb","stroke":null},
         "layer":[
          {"mark":{"type":"bar"},"encoding":{
            "y":{"field":"n","type":"nominal","sort":null,"scale":{"paddingInner":0.1,"paddingOuter":0.3},"axis":{"title":null,"labelFontSize":6.8,"tickSize":2,"domain":false,"labelPadding":1,"minExtent":0}},
            "x":{"field":"fc","type":"quantitative","scale":{"domain":[-3.1,3.72],"nice":false,"zero":false},"axis":{"title":null,"values":[-2,0,2],"domain":false,"tickSize":2,"labelFontSize":7,"labelPadding":1}},
            "x2":{"datum":0},
            "color":{"field":"c","type":"nominal","scale":{"domain":["PUFA elongation","Sphingolipid|biosynthesis","Sphingolipid|metabolic process","Other lipids|related"],"range":["#F8766D","#7CAE00","#00BFC4","#C77CFF"]},"legend":null}}},
          {"mark":{"type":"rule","color":"#222","strokeDash":[2,2],"strokeWidth":0.6},"encoding":{"x":{"datum":0}}},
          {"transform":[{"filter":"abs(datum.fc) >= 0.3"}],"mark":{"type":"text","text":"*","fontSize":7,"color":"#111","baseline":"middle","dy":1.5},"encoding":{"x":{"field":"fc","type":"quantitative"},"y":{"field":"n","type":"nominal","sort":null}}},
          {"transform":[{"filter":"datum.f != null"}],"mark":{"type":"circle","size":14,"opacity":1},"encoding":{"x":{"datum":-6.9},"y":{"field":"n","type":"nominal","sort":null},"fill":{"field":"f","type":"nominal","scale":{"domain":["i","s","m"],"range":["#e8525b","#7096d8","#33b34a"]},"legend":null}}}
         ]}},
       {"data":{"name":"h"},"transform":[{"filter":"datum.g == 3"},{"fold":["24h"],"as":["time","fc"]}],
        "facet":{"row":{"field":"c","type":"nominal","sort":["PUFA elongation","Sphingolipid|biosynthesis","Sphingolipid|metabolic process","Other lipids|related"],"header":{"labels":false,"title":null}},
                 "column":{"field":"time","type":"nominal","header":{"title":null,"labelExpr":"'MDA468 ' + datum.value","labelFontSize":6.5,"labelPadding":2}}},
        "spacing":{"row":0},"align":"none",
        "resolve":{"scale":{"y":"independent"}},
        "spec":{"width":59,"height":{"step":5.41},"view":{"fill":"#ebebeb","stroke":null},
         "layer":[
          {"mark":{"type":"bar"},"encoding":{
            "y":{"field":"n","type":"nominal","sort":null,"scale":{"paddingInner":0.1,"paddingOuter":0.3},"axis":null},
            "x":{"field":"fc","type":"quantitative","scale":{"domain":[-3.1,3.72],"nice":false,"zero":false},"axis":{"title":null,"values":[-2,0,2],"domain":false,"tickSize":2,"labelFontSize":7,"labelPadding":1}},
            "x2":{"datum":0},
            "color":{"field":"c","type":"nominal","scale":{"domain":["PUFA elongation","Sphingolipid|biosynthesis","Sphingolipid|metabolic process","Other lipids|related"],"range":["#F8766D","#7CAE00","#00BFC4","#C77CFF"]},"legend":null}}},
          {"mark":{"type":"rule","color":"#222","strokeDash":[2,2],"strokeWidth":0.6},"encoding":{"x":{"datum":0}}},
          {"transform":[{"filter":"abs(datum.fc) >= 0.3"}],"mark":{"type":"text","text":"*","fontSize":7,"color":"#111","baseline":"middle","dy":1.5},"encoding":{"x":{"field":"fc","type":"quantitative"},"y":{"field":"n","type":"nominal","sort":null}}},
          {"transform":[{"window":[{"op":"row_number","as":"rn"}],"groupby":["c"]},{"filter":"datum.rn == 1"}],"mark":{"type":"text","align":"left","baseline":"top","fontSize":6.8,"lineBreak":"|","lineHeight":7.5,"color":"#222"},"encoding":{"x":{"datum":4.18},"y":{"field":"n","type":"nominal","sort":null,"bandPosition":0},"text":{"field":"c"}}}
         ]}}
      ]}
     ]}
    ]}
   ],"spacing":10,"resolve":{"scale":{"color":"independent","fill":"independent","size":"independent"},"legend":{"color":"independent","fill":"independent"}}}
  ],"spacing":0,"resolve":{"scale":{"color":"independent","fill":"independent","size":"independent"},"legend":{"color":"independent","fill":"independent"}}}
 ],"spacing":4,"resolve":{"scale":{"color":"independent","fill":"independent","size":"independent"},"legend":{"color":"independent","fill":"independent","size":"independent"}}}
]
}
